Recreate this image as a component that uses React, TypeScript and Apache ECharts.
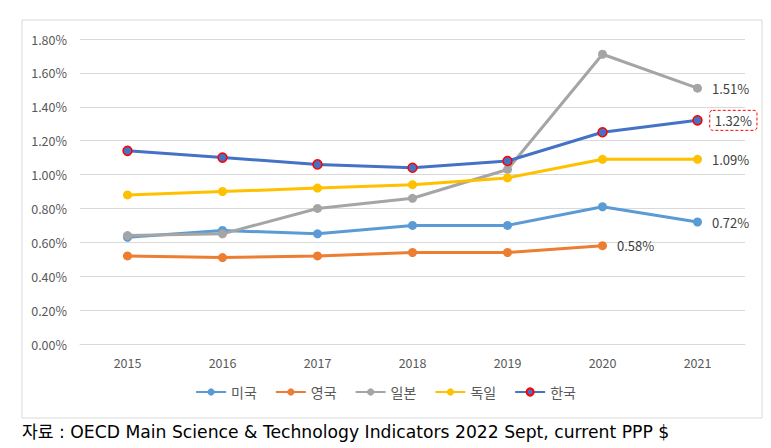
import React, { useEffect, useRef } from "react";
import * as echarts from "echarts";

const years = ["2015", "2016", "2017", "2018", "2019", "2020", "2021"];
const usa = [0.63, 0.67, 0.65, 0.7, 0.7, 0.81, 0.72];
const uk = [0.52, 0.51, 0.52, 0.54, 0.54, 0.58, null];
const japan = [0.64, 0.65, 0.8, 0.86, 1.03, 1.71, 1.51];
const germany = [0.88, 0.9, 0.92, 0.94, 0.98, 1.09, 1.09];
const korea = [1.14, 1.1, 1.06, 1.04, 1.08, 1.25, 1.32];
const names = ["미국", "영국", "일본", "독일", "한국"];
const footer = "자료 : OECD Main Science & Technology Indicators 2022 Sept, current PPP $";

const FONT = "'Noto Sans CJK KR', 'Noto Sans', sans-serif";

const baseLabel: any = {
  show: true,
  position: "right",
  distance: 10,
  fontSize: 13,
  fontFamily: FONT,
  color: "#404040",
  formatter: (p: any) => p.value.toFixed(2) + "%",
};

function withEndLabel(data: (number | null)[], idx: number, extra: any = {}) {
  return data.map((v, i) =>
    i === idx ? { value: v, label: { ...baseLabel, ...extra } } : v
  );
}

export default function App() {
  const ref = useRef<HTMLDivElement>(null);
  useEffect(() => {
    const chart = echarts.init(ref.current!, null, { renderer: "svg" });
    const mk = (name: string, data: any[], color: string, lastIdx: number, labelExtra: any = {}) => ({
      name,
      type: "line",
      data: withEndLabel(data, lastIdx, labelExtra),
      symbol: "circle",
      symbolSize: 9,
      lineStyle: { width: 3, color },
      itemStyle: { color },
      label: { show: false },
    });
    chart.setOption({
      animation: false,
      textStyle: { fontFamily: FONT },
      grid: { left: 80, right: 26, top: 39, bottom: 104, containLabel: false },
      xAxis: {
        type: "category",
        data: years,
        boundaryGap: true,
        axisLine: { show: true, lineStyle: { color: "#d9d9d9" } },
        axisTick: { show: false },
        axisLabel: { color: "#595959", fontSize: 12.5, margin: 12, fontFamily: FONT },
      },
      yAxis: {
        type: "value",
        min: 0,
        max: 1.8,
        interval: 0.2,
        axisLine: { show: false },
        axisTick: { show: false },
        splitLine: { lineStyle: { color: "#d9d9d9", width: 1 } },
        axisLabel: {
          color: "#595959",
          fontSize: 12.5,
          margin: 13,
          fontFamily: FONT,
          formatter: (v: number) => v.toFixed(2) + "%",
        },
      },
      legend: {
        bottom: 44,
        left: "center",
        itemWidth: 30,
        itemHeight: 9,
        itemGap: 18,
        textStyle: { color: "#595959", fontSize: 14, fontFamily: FONT },
        data: names,
      },
      series: [
        mk(names[0], usa, "#5B9BD5", 6),
        mk(names[1], uk, "#ED7D31", 5),
        mk(names[2], japan, "#A5A5A5", 6),
        mk(names[3], germany, "#FFC000", 6),
        {
          ...mk(names[4], korea, "#4472C4", 6, {
            distance: 7,
            borderColor: "#ff0000",
            borderWidth: 1,
            borderType: [3, 2],
            borderRadius: 3,
            padding: [4, 5, 3, 5],
          }),
          itemStyle: { color: "#4472C4", borderColor: "#ff0000", borderWidth: 1.5 },
        },
      ],
      graphic: [
        {
          type: "rect",
          shape: { x: 22, y: 20, width: 740, height: 398 },
          style: { fill: "none", stroke: "#d9d9d9", lineWidth: 1 },
          silent: true,
        },
        {
          type: "text",
          x: 22,
          y: 432,
          style: {
            text: footer,
            fontSize: 17.2,
            fontFamily: "'DejaVu Sans', 'Noto Sans CJK KR', sans-serif",
            fill: "#000000",
            verticalAlign: "middle",
          },
        },
      ],
    });
    return () => chart.dispose();
  }, []);
  return (
    <div
      ref={ref}
      style={{ position: "fixed", left: 0, top: 0, width: 771, height: 448, background: "#fff" }}
    />
  );
}
